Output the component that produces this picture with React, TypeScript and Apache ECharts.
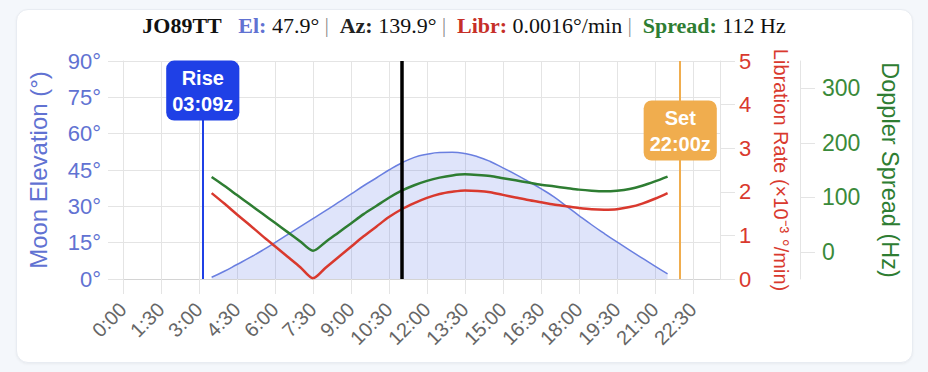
import React, { useEffect, useRef } from 'react';
import * as echarts from 'echarts';

const timesH = [3.5, 4, 4.5, 5, 5.5, 6, 6.5, 7, 7.5, 8, 8.5, 9, 9.5, 10, 10.5, 11, 11.5, 12, 12.5, 13, 13.5, 14, 14.5, 15, 15.5, 16, 16.5, 17, 17.5, 18, 18.5, 19, 19.5, 20, 20.5, 21, 21.5];
const elevation = [0.7, 3.2, 6.0, 8.8, 11.8, 15.0, 18.3, 21.6, 24.9, 28.2, 31.6, 35.0, 38.5, 41.7, 45.0, 47.9, 50.2, 51.5, 52.2, 52.3, 51.8, 50.5, 48.5, 45.9, 43.2, 40.3, 37.3, 34.0, 30.1, 26.2, 22.4, 18.8, 15.3, 11.9, 8.6, 5.3, 2.1];
const libration = [1.97, 1.73, 1.48, 1.24, 0.99, 0.75, 0.51, 0.27, 0.02, 0.26, 0.5, 0.74, 0.98, 1.2, 1.42, 1.6, 1.74, 1.86, 1.95, 2.0, 2.03, 2.02, 1.99, 1.93, 1.87, 1.81, 1.76, 1.71, 1.67, 1.63, 1.6, 1.59, 1.6, 1.65, 1.73, 1.84, 1.97];
const doppler = [137, 121, 104, 87, 70, 53, 36, 19, 2, 18, 35, 52, 69, 84, 99, 112, 122, 130, 136, 140, 142, 141, 139, 135, 131, 127, 123, 120, 117, 114, 112, 111, 112, 115, 121, 129, 138];

const xTicks = [0, 1.5, 3, 4.5, 6, 7.5, 9, 10.5, 12, 13.5, 15, 16.5, 18, 19.5, 21, 22.5];
const xMax = 23.57;
const dopplerTicks = [0, 100, 200, 300];

const riseH = 3.15;
const setH = 22.0;
const nowH = 11.0;
const riseLabel = 'Rise\n03:09z';
const setLabel = 'Set\n22:00z';
const riseLabelElev = 77.8;
const setLabelElev = 61.3;

const locator = 'JO89TT';
const curEl = '47.9°';
const curAz = '139.9°';
const curLibr = '0.0016°/min';
const curSpread = '112 Hz';

const SANS = 'Liberation Sans, Arial, Helvetica, sans-serif';
const SERIF = 'Liberation Serif, Times New Roman, serif';
const GRID = '#e4e4e4';
const BLUE = '#6a7fe0';
const BLUE_TXT = '#6172d2';
const RED = '#d9392e';
const GREEN = '#2e7d32';
const RISE = '#1f40e6';
const SET = '#f0ad4e';

function fmtTime(h: number): string {
  const H = Math.floor(h + 1e-9);
  const M = Math.round((h - H) * 60);
  return `${H}:${String(M).padStart(2, '0')}`;
}

export default function App() {
  const ref = useRef<HTMLDivElement>(null);
  useEffect(() => {
    document.body.style.margin = '0';
    if (!ref.current) return;
    const chart = echarts.init(ref.current, undefined, { renderer: 'svg' });
    const option: any = {
      animation: false,
      backgroundColor: 'transparent',
      title: {
        left: 'center',
        top: 9,
        text: `{b|${locator}}   {el|El:} {v|${curEl}} {s||}  {az|Az:} {v|${curAz}} {s||}  {li|Libr:} {v|${curLibr}} {s||}  {sp|Spread:} {v|${curSpread}}`,
        textStyle: {
          fontFamily: SERIF,
          fontSize: 22,
          fontWeight: 'normal',
          color: '#111',
          rich: {
            b: { fontFamily: SERIF, fontSize: 22, fontWeight: 'bold', color: '#111' },
            el: { fontFamily: SERIF, fontSize: 22, fontWeight: 'bold', color: BLUE_TXT },
            az: { fontFamily: SERIF, fontSize: 22, fontWeight: 'bold', color: '#222' },
            li: { fontFamily: SERIF, fontSize: 22, fontWeight: 'bold', color: '#c62f28' },
            sp: { fontFamily: SERIF, fontSize: 22, fontWeight: 'bold', color: GREEN },
            v: { fontFamily: SERIF, fontSize: 22, fontWeight: 'normal', color: '#111' },
            s: { fontFamily: SERIF, fontSize: 20, fontWeight: 'normal', color: '#888' },
          },
        },
      },
      grid: { left: 123, right: 208, top: 61, bottom: 93 },
      xAxis: {
        type: 'value',
        min: 0,
        max: xMax,
        interval: 1.5,
        axisLine: { show: true, lineStyle: { color: '#d4d4d4' } },
        axisTick: { show: true, length: 15, lineStyle: { color: GRID }, customValues: xTicks },
        axisLabel: {
          customValues: xTicks,
          rotate: 45,
          margin: 27,
          color: '#666',
          fontSize: 20,
          fontFamily: SANS,
          formatter: (v: number) => fmtTime(v),
        },
        splitLine: { show: true, lineStyle: { color: GRID } },
      },
      yAxis: [
        {
          type: 'value',
          position: 'left',
          min: 0,
          max: 90,
          interval: 15,
          name: 'Moon Elevation (°)',
          nameLocation: 'middle',
          nameGap: 73,
          nameTextStyle: { color: BLUE_TXT, fontSize: 24, fontFamily: SANS },
          axisLine: { show: true, lineStyle: { color: GRID } },
          axisTick: { show: true, length: 15, lineStyle: { color: GRID } },
          axisLabel: { formatter: '{value}°', color: BLUE_TXT, fontSize: 22, fontFamily: SANS, margin: 22 },
          splitLine: { show: true, lineStyle: { color: GRID } },
        },
        {
          type: 'value',
          position: 'right',
          min: 0,
          max: 5,
          interval: 1,
          name: 'Libration Rate (×10⁻³ °/min)',
          nameLocation: 'middle',
          nameRotate: -90,
          nameGap: 51,
          nameTextStyle: { color: RED, fontSize: 20, fontFamily: SANS },
          axisLine: { show: true, lineStyle: { color: GRID } },
          axisTick: { show: true, length: 15, lineStyle: { color: GRID } },
          axisLabel: { color: RED, fontSize: 22, fontFamily: SANS, margin: 19 },
          splitLine: { show: false },
        },
        {
          type: 'value',
          position: 'right',
          offset: 80,
          min: -50,
          max: 350,
          name: 'Doppler Spread (Hz)',
          nameLocation: 'middle',
          nameRotate: -90,
          nameGap: 78,
          nameTextStyle: { color: GREEN, fontSize: 23.5, fontFamily: SANS },
          axisLine: { show: true, lineStyle: { color: GRID } },
          axisTick: { show: true, length: 15, lineStyle: { color: GRID }, customValues: dopplerTicks },
          axisLabel: { customValues: dopplerTicks, color: '#3a8a3a', fontSize: 23, fontFamily: SANS, margin: 22 },
          splitLine: { show: false },
        },
      ],
      series: [
        {
          name: 'Elevation',
          type: 'line',
          yAxisIndex: 0,
          smooth: true,
          showSymbol: false,
          silent: true,
          lineStyle: { color: BLUE, width: 1.5 },
          areaStyle: { color: 'rgba(106,127,232,0.3)' },
          data: timesH.map((t, i) => [t, elevation[i]]),
          z: 2,
        },
        {
          name: 'Libration',
          type: 'line',
          yAxisIndex: 1,
          smooth: 0.3,
          showSymbol: false,
          silent: true,
          lineStyle: { color: RED, width: 2.5 },
          data: timesH.map((t, i) => [t, libration[i]]),
          z: 3,
        },
        {
          name: 'Doppler',
          type: 'line',
          yAxisIndex: 2,
          smooth: 0.3,
          showSymbol: false,
          silent: true,
          lineStyle: { color: GREEN, width: 2.5 },
          data: timesH.map((t, i) => [t, doppler[i]]),
          z: 3,
        },
        {
          name: 'Markers',
          type: 'line',
          yAxisIndex: 0,
          showSymbol: false,
          silent: true,
          data: [[riseH, riseLabelElev]],
          lineStyle: { width: 0, opacity: 0 },
          z: 5,
          markLine: {
            silent: true,
            symbol: ['none', 'none'],
            label: { show: false },
            emphasis: { disabled: true },
            data: [
              { xAxis: riseH, lineStyle: { color: RISE, width: 2, type: 'solid' } },
              { xAxis: setH, lineStyle: { color: SET, width: 2, type: 'solid' } },
              { xAxis: nowH, lineStyle: { color: '#000', width: 3.5, type: 'solid' } },
            ],
          },
          markPoint: {
            silent: true,
            symbol: 'rect',
            symbolSize: 0,
            z: 10,
            label: {
              show: true,
              position: 'inside',
              color: '#fff',
              fontWeight: 'bold',
              fontSize: 20,
              lineHeight: 26,
              fontFamily: SANS,
              align: 'center',
              padding: [4, 6, 4, 6],
              borderRadius: 8,
            },
            data: [
              { coord: [riseH, riseLabelElev], label: { formatter: riseLabel, backgroundColor: RISE } },
              { coord: [setH, setLabelElev], label: { formatter: setLabel, backgroundColor: SET } },
            ],
          },
        },
      ],
    };
    chart.setOption(option);
    return () => chart.dispose();
  }, []);

  return (
    <div style={{ position: 'relative', width: 928, height: 372, background: '#f4f7fb', overflow: 'hidden' }}>
      <div
        style={{
          position: 'absolute',
          left: 16,
          top: 9,
          width: 897,
          height: 354,
          background: '#fff',
          borderRadius: 12,
          border: '1px solid #e8ecf2',
          boxSizing: 'border-box',
          boxShadow: '0 1px 3px rgba(0,0,0,0.05)',
        }}
      />
      <div ref={ref} style={{ position: 'absolute', left: 0, top: 0, width: 928, height: 372 }} />
    </div>
  );
}
